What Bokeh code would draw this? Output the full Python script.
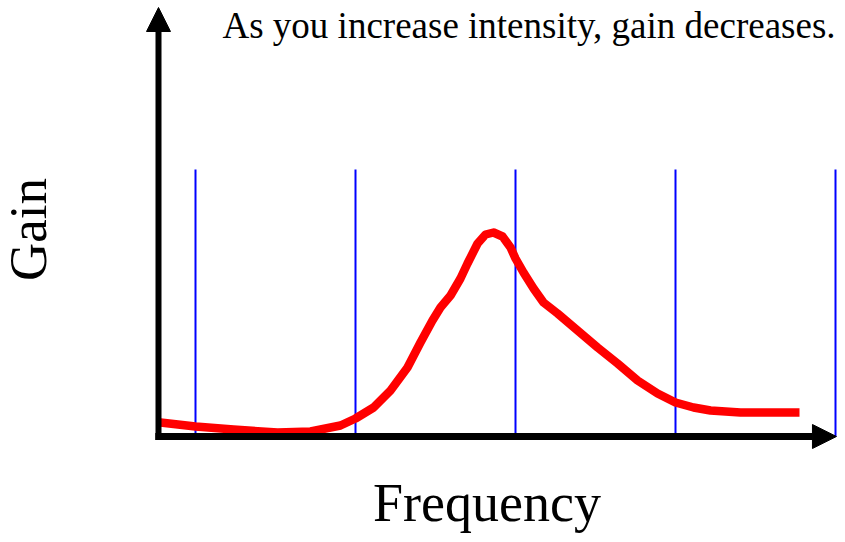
from bokeh.plotting import figure
from bokeh.models import Arrow, NormalHead, Label, Range1d
from bokeh.embed import file_html
from bokeh.resources import INLINE
import math

# ---- data ----
freq = [0.781, 1.000, 1.238, 1.513, 1.719, 1.906, 2.000, 2.113, 2.219, 2.325,
        2.406, 2.481, 2.531, 2.594, 2.656, 2.700, 2.763, 2.813, 2.863, 2.919,
        2.969, 3.000, 3.050, 3.113, 3.175, 3.263, 3.388, 3.513, 3.638, 3.763,
        3.888, 4.000, 4.113, 4.219, 4.406, 4.775]
gain = [0.14, 0.10, 0.07, 0.04, 0.05, 0.11, 0.18, 0.29, 0.46, 0.69,
        0.94, 1.16, 1.29, 1.41, 1.58, 1.73, 1.93, 2.02, 2.04, 2.00,
        1.89, 1.78, 1.64, 1.48, 1.34, 1.23, 1.06, 0.89, 0.73, 0.56,
        0.43, 0.34, 0.29, 0.26, 0.24, 0.24]
grid_freqs = [1, 2, 3, 4, 5]
grid_top = 2.67

title_text = "As you increase intensity, gain decreases."
x_label = "Frequency"
y_label = "Gain"

# axis extents (data units)
x_origin = 0.76875
x_end = 5.006
y_end = 4.29

W, H = 837, 534
p = figure(width=W, height=H, output_backend="svg", toolbar_location=None,
           x_axis_type=None, y_axis_type=None, min_border=0,
           x_range=Range1d(-35 / 160, (W - 35) / 160),
           y_range=Range1d((436 - H) / 100, 436 / 100))
p.outline_line_color = None
p.background_fill_color = "white"
p.border_fill_color = "white"

# blue vertical lines
p.segment(x0=grid_freqs, y0=[0] * len(grid_freqs), x1=grid_freqs,
          y1=[grid_top] * len(grid_freqs), line_color="#0000ff", line_width=2)

# red curve
p.line(freq, gain, line_color="#ff0000", line_width=8.5, line_cap="butt",
       line_join="round")

# axes as arrows
p.add_layout(Arrow(end=NormalHead(size=24, fill_color="black", line_color="black"),
                   x_start=x_origin - 0.02, y_start=0, x_end=x_end, y_end=0,
                   line_color="black", line_width=7))
p.add_layout(Arrow(end=NormalHead(size=24, fill_color="black", line_color="black"),
                   x_start=x_origin, y_start=-0.035, x_end=x_origin, y_end=y_end,
                   line_color="black", line_width=6))

# texts
p.add_layout(Label(x=1.16875, y=4.11, text=title_text, text_font="Liberation Serif",
                   text_font_size="37px", text_color="black",
                   text_baseline="alphabetic", text_align="left"))
p.add_layout(Label(x=2.822, y=-0.66, text=x_label, text_font="Liberation Serif",
                   text_font_size="54px", text_color="black",
                   text_baseline="alphabetic", text_align="center"))
p.add_layout(Label(x=-0.05, y=2.07, text=y_label, text_font="Liberation Serif",
                   text_font_size="53px", text_color="black", angle=math.pi / 2,
                   text_baseline="alphabetic", text_align="center"))

open("out.html", "w").write(file_html(p, INLINE))
